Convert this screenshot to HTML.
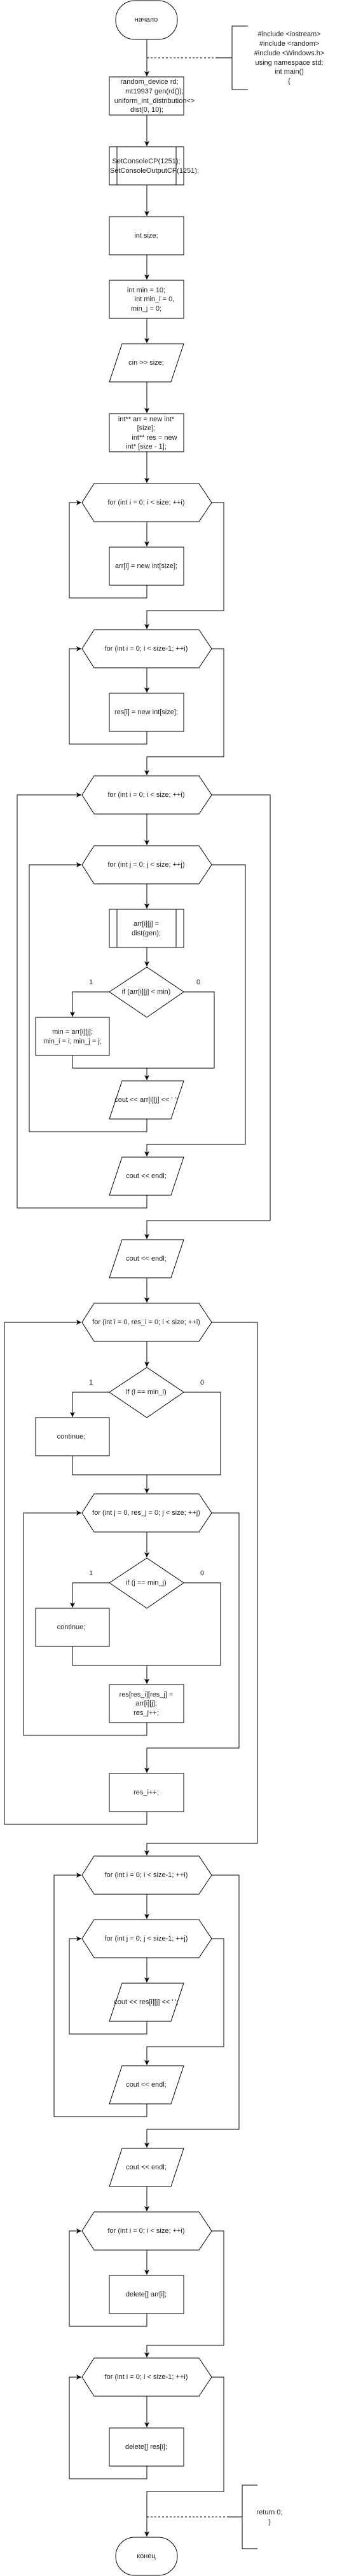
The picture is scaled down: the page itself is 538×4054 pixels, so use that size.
<!DOCTYPE html>
<html><head><meta charset="utf-8"><style>
html,body{margin:0;padding:0;background:#fff;}
svg{display:block;}
text{font-family:"Liberation Sans",Arial,sans-serif;font-size:11px;fill:#222;text-anchor:middle;dominant-baseline:central;}
.s{fill:none;stroke:#000;stroke-width:1;}
.f{fill:#fff;stroke:#000;stroke-width:1;}
</style></head><body>
<svg width="538" height="4054" viewBox="0 0 538 4054" xmlns="http://www.w3.org/2000/svg">
<defs>
<marker id="a" markerUnits="userSpaceOnUse" markerWidth="10" markerHeight="10" refX="8" refY="4" orient="auto">
<path d="M0,0 L8,4 L0,8 L2,4 Z" fill="#000"/>
</marker>
</defs>

<!-- start -->
<rect class="f" x="182" y="1" width="97" height="61" rx="30" ry="30" stroke-width="1.5"/>
<text x="230" y="31">начало</text>
<line class="s" x1="231" y1="62" x2="231" y2="120" marker-end="url(#a)"/>
<line class="s" x1="231" y1="91" x2="341" y2="91" stroke-dasharray="3,3"/>
<path class="s" d="M341,91 H365 M390,41 H365 V141 H390" stroke-width="1.5"/>
<text x="455" y="54">#include &lt;iostream&gt;</text>
<text x="455" y="69">#include &lt;random&gt;</text>
<text x="455" y="84">#include &lt;Windows.h&gt;</text>
<text x="455" y="99">using namespace std;</text>
<text x="455" y="113">int main()</text>
<text x="455" y="128">{</text>

<rect class="f" x="172" y="121" width="117" height="60"/>
<text x="235" y="129">random_device rd;</text>
<text x="243" y="144">mt19937 gen(rd());</text>
<text x="243" y="159">uniform_int_distribution&lt;&gt;</text>
<text x="231" y="173">dist(0, 10);</text>
<line class="s" x1="231" y1="181" x2="231" y2="230" marker-end="url(#a)"/>

<rect class="f" x="172" y="231" width="117" height="60"/>
<line class="s" x1="184" y1="231" x2="184" y2="291"/>
<line class="s" x1="277" y1="231" x2="277" y2="291"/>
<text x="230" y="254">SetConsoleCP(1251);</text>
<text x="243" y="269">SetConsoleOutputCP(1251);</text>
<line class="s" x1="231" y1="291" x2="231" y2="340" marker-end="url(#a)"/>

<rect class="f" x="172" y="341" width="117" height="60"/>
<text x="230" y="371">int size;</text>
<line class="s" x1="231" y1="401" x2="231" y2="440" marker-end="url(#a)"/>

<rect class="f" x="172" y="441" width="117" height="60"/>
<text x="230" y="457">int min = 10;</text>
<text x="243" y="471">int min_i = 0,</text>
<text x="230" y="486">min_j = 0;</text>
<line class="s" x1="231" y1="501" x2="231" y2="540" marker-end="url(#a)"/>

<polygon class="f" points="192,541 289,541 269,601 172,601"/>
<text x="230" y="571">cin &gt;&gt; size;</text>
<line class="s" x1="231" y1="601" x2="231" y2="650" marker-end="url(#a)"/>

<rect class="f" x="172" y="651" width="117" height="60"/>
<text x="230" y="660">int** arr = new int*</text>
<text x="230" y="674">[size];</text>
<text x="243" y="689">int** res = new</text>
<text x="230" y="703">int* [size - 1];</text>
<line class="s" x1="231" y1="711" x2="231" y2="760" marker-end="url(#a)"/>

<!-- hex1 -->
<polygon class="f" points="148,761 313,761 333,791 313,821 148,821 129,791"/>
<text x="230" y="791">for (int i = 0; i &lt; size; ++i)</text>
<line class="s" x1="231" y1="821" x2="231" y2="860" marker-end="url(#a)"/>
<rect class="f" x="172" y="861" width="117" height="60"/>
<text x="230" y="891">arr[i] = new int[size];</text>
<polyline class="s" points="231,921 231,941 109,941 109,791 128,791" marker-end="url(#a)"/>
<polyline class="s" points="333,791 352,791 352,961 231,961 231,990" marker-end="url(#a)"/>

<!-- hex2 -->
<polygon class="f" points="148,991 313,991 333,1021 313,1051 148,1051 129,1021"/>
<text x="230" y="1021">for (int i = 0; i &lt; size-1; ++i)</text>
<line class="s" x1="231" y1="1051" x2="231" y2="1090" marker-end="url(#a)"/>
<rect class="f" x="172" y="1091" width="117" height="60"/>
<text x="230" y="1121">res[i] = new int[size];</text>
<polyline class="s" points="231,1151 231,1171 109,1171 109,1021 128,1021" marker-end="url(#a)"/>
<polyline class="s" points="333,1021 352,1021 352,1191 231,1191 231,1220" marker-end="url(#a)"/>

<!-- hex3 -->
<polygon class="f" points="148,1221 313,1221 333,1251 313,1281 148,1281 129,1251"/>
<text x="230" y="1251">for (int i = 0; i &lt; size; ++i)</text>
<line class="s" x1="231" y1="1281" x2="231" y2="1330" marker-end="url(#a)"/>
<!-- hex4 -->
<polygon class="f" points="148,1331 313,1331 333,1361 313,1391 148,1391 129,1361"/>
<text x="230" y="1361">for (int j = 0; j &lt; size; ++j)</text>
<line class="s" x1="231" y1="1391" x2="231" y2="1430" marker-end="url(#a)"/>
<rect class="f" x="172" y="1431" width="117" height="60"/>
<line class="s" x1="184" y1="1431" x2="184" y2="1491"/>
<line class="s" x1="277" y1="1431" x2="277" y2="1491"/>
<text x="230" y="1454">arr[i][j] =</text>
<text x="230" y="1469">dist(gen);</text>
<line class="s" x1="231" y1="1491" x2="231" y2="1521" marker-end="url(#a)"/>
<polygon class="f" points="231,1522 289,1561 231,1601 172,1561"/>
<text x="230" y="1561">if (arr[i][j] &lt; min)</text>
<text x="143" y="1546">1</text>
<text x="312" y="1546">0</text>
<polyline class="s" points="172,1561 114,1561 114,1600" marker-end="url(#a)"/>
<rect class="f" x="56" y="1601" width="116" height="60"/>
<text x="114" y="1624">min = arr[i][j];</text>
<text x="114" y="1639">min_i = i; min_j = j;</text>
<polyline class="s" points="114,1661 114,1681 337,1681 337,1561 289,1561"/>
<line class="s" x1="231" y1="1681" x2="231" y2="1700" marker-end="url(#a)"/>
<polygon class="f" points="192,1701 289,1701 269,1761 172,1761"/>
<text x="230" y="1731">cout &lt;&lt; arr[i][j] &lt;&lt; ' ';</text>
<polyline class="s" points="231,1761 231,1781 46,1781 46,1361 128,1361" marker-end="url(#a)"/>
<polyline class="s" points="333,1361 386,1361 386,1801 231,1801 231,1820" marker-end="url(#a)"/>
<polygon class="f" points="192,1821 289,1821 269,1881 172,1881"/>
<text x="230" y="1851">cout &lt;&lt; endl;</text>
<polyline class="s" points="231,1881 231,1901 27,1901 27,1251 128,1251" marker-end="url(#a)"/>
<polyline class="s" points="333,1251 425,1251 425,1921 231,1921 231,1950" marker-end="url(#a)"/>
<polygon class="f" points="192,1951 289,1951 269,2011 172,2011"/>
<text x="230" y="1981">cout &lt;&lt; endl;</text>
<line class="s" x1="231" y1="2011" x2="231" y2="2050" marker-end="url(#a)"/>

<!-- hex5 -->
<polygon class="f" points="148,2051 313,2051 333,2081 313,2111 148,2111 129,2081"/>
<text x="230" y="2081">for (int i = 0, res_i = 0; i &lt; size; ++i)</text>
<line class="s" x1="231" y1="2111" x2="231" y2="2151" marker-end="url(#a)"/>
<polygon class="f" points="231,2152 289,2191 231,2231 172,2191"/>
<text x="230" y="2191">if (i == min_i)</text>
<text x="143" y="2176">1</text>
<text x="318" y="2176">0</text>
<polyline class="s" points="172,2191 114,2191 114,2230" marker-end="url(#a)"/>
<rect class="f" x="56" y="2231" width="116" height="60"/>
<text x="112" y="2261">continue;</text>
<polyline class="s" points="114,2291 114,2321 347,2321 347,2191 289,2191"/>
<line class="s" x1="231" y1="2321" x2="231" y2="2350" marker-end="url(#a)"/>

<!-- hex6 -->
<polygon class="f" points="148,2351 313,2351 333,2381 313,2411 148,2411 129,2381"/>
<text x="230" y="2381">for (int j = 0, res_j = 0; j &lt; size; ++j)</text>
<line class="s" x1="231" y1="2411" x2="231" y2="2451" marker-end="url(#a)"/>
<polygon class="f" points="231,2452 289,2491 231,2531 172,2491"/>
<text x="230" y="2491">if (j == min_j)</text>
<text x="143" y="2476">1</text>
<text x="318" y="2476">0</text>
<polyline class="s" points="172,2491 114,2491 114,2530" marker-end="url(#a)"/>
<rect class="f" x="56" y="2531" width="116" height="60"/>
<text x="112" y="2561">continue;</text>
<polyline class="s" points="114,2591 114,2621 347,2621 347,2491 289,2491"/>
<line class="s" x1="231" y1="2621" x2="231" y2="2650" marker-end="url(#a)"/>
<rect class="f" x="172" y="2651" width="117" height="60"/>
<text x="230" y="2667">res[res_i][res_j] =</text>
<text x="230" y="2681">arr[i][j];</text>
<text x="230" y="2696">res_j++;</text>
<polyline class="s" points="231,2711 231,2731 37,2731 37,2381 128,2381" marker-end="url(#a)"/>
<polyline class="s" points="333,2381 376,2381 376,2751 231,2751 231,2790" marker-end="url(#a)"/>
<rect class="f" x="172" y="2791" width="117" height="60"/>
<text x="230" y="2821">res_i++;</text>
<polyline class="s" points="231,2851 231,2871 7,2871 7,2081 128,2081" marker-end="url(#a)"/>
<polyline class="s" points="333,2081 405,2081 405,2901 231,2901 231,2920" marker-end="url(#a)"/>

<!-- hex7 -->
<polygon class="f" points="148,2921 313,2921 333,2951 313,2981 148,2981 129,2951"/>
<text x="230" y="2951">for (int i = 0; i &lt; size-1; ++i)</text>
<line class="s" x1="231" y1="2981" x2="231" y2="3020" marker-end="url(#a)"/>
<!-- hex8 -->
<polygon class="f" points="148,3021 313,3021 333,3051 313,3081 148,3081 129,3051"/>
<text x="230" y="3051">for (int j = 0; j &lt; size-1; ++j)</text>
<line class="s" x1="231" y1="3081" x2="231" y2="3120" marker-end="url(#a)"/>
<polygon class="f" points="192,3121 289,3121 269,3181 172,3181"/>
<text x="230" y="3151">cout &lt;&lt; res[i][j] &lt;&lt; ' ';</text>
<polyline class="s" points="231,3181 231,3201 109,3201 109,3051 128,3051" marker-end="url(#a)"/>
<polyline class="s" points="333,3051 352,3051 352,3221 231,3221 231,3250" marker-end="url(#a)"/>
<polygon class="f" points="192,3251 289,3251 269,3311 172,3311"/>
<text x="230" y="3281">cout &lt;&lt; endl;</text>
<polyline class="s" points="231,3311 231,3331 85,3331 85,2951 128,2951" marker-end="url(#a)"/>
<polyline class="s" points="333,2951 376,2951 376,3351 231,3351 231,3380" marker-end="url(#a)"/>
<polygon class="f" points="192,3381 289,3381 269,3441 172,3441"/>
<text x="230" y="3411">cout &lt;&lt; endl;</text>
<line class="s" x1="231" y1="3441" x2="231" y2="3480" marker-end="url(#a)"/>

<!-- hex9 -->
<polygon class="f" points="148,3481 313,3481 333,3511 313,3541 148,3541 129,3511"/>
<text x="230" y="3511">for (int i = 0; i &lt; size; ++i)</text>
<line class="s" x1="231" y1="3541" x2="231" y2="3580" marker-end="url(#a)"/>
<rect class="f" x="172" y="3581" width="117" height="60"/>
<text x="230" y="3611">delete[] arr[i];</text>
<polyline class="s" points="231,3641 231,3661 109,3661 109,3511 128,3511" marker-end="url(#a)"/>
<polyline class="s" points="333,3511 352,3511 352,3691 231,3691 231,3710" marker-end="url(#a)"/>

<!-- hex10 -->
<polygon class="f" points="148,3711 313,3711 333,3741 313,3771 148,3771 129,3741"/>
<text x="230" y="3741">for (int i = 0; i &lt; size-1; ++i)</text>
<line class="s" x1="231" y1="3771" x2="231" y2="3820" marker-end="url(#a)"/>
<rect class="f" x="172" y="3821" width="117" height="60"/>
<text x="230" y="3851">delete[] res[i];</text>
<polyline class="s" points="231,3881 231,3901 109,3901 109,3741 128,3741" marker-end="url(#a)"/>
<polyline class="s" points="333,3741 352,3741 352,3921 231,3921 231,3992" marker-end="url(#a)"/>
<line class="s" x1="231" y1="3961" x2="357" y2="3961" stroke-dasharray="3,3"/>
<path class="s" d="M357,3961 H381 M405,3911 H381 V4011 H405" stroke-width="1.5"/>
<text x="424" y="3954">return 0;</text>
<text x="424" y="3969">}</text>

<rect class="f" x="182" y="3993" width="97" height="60" rx="30" ry="30" stroke-width="1.5"/>
<text x="230" y="4023">конец</text>
</svg>
</body></html>
